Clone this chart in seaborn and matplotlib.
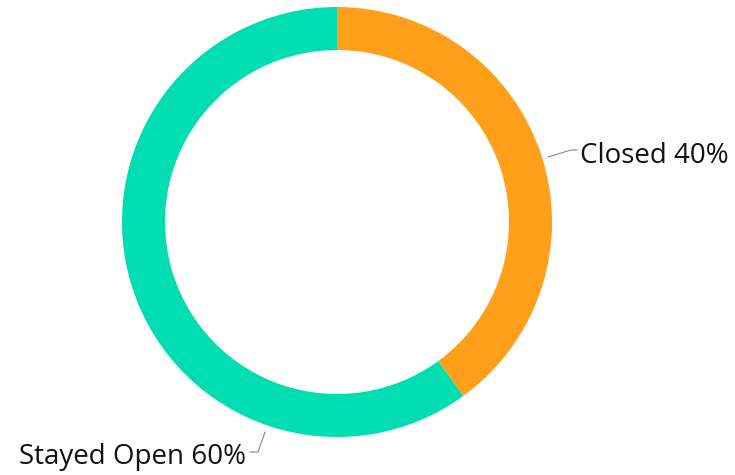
import matplotlib
matplotlib.use('Agg')
import matplotlib.pyplot as plt
import seaborn as sns

labels = ['Closed', 'Stayed Open']
shares = [40, 60]
colors = ['#FF9F1A', '#00DDB0']

sns.set_theme(style='white')
plt.rcParams['font.family'] = ['Open Sans', 'DejaVu Sans']

W, H = 735, 475
fig = plt.figure(figsize=(W / 100, H / 100), dpi=100)
ax = fig.add_axes([0, 0, 1, 1])

# donut, center and radius in pixel units (y measured from bottom)
cx, cy, r_out, r_in = 337, H - 222, 215, 172
ax.pie(shares, colors=colors, startangle=90, counterclock=False,
       center=(cx, cy), radius=r_out, frame=True,
       wedgeprops=dict(width=r_out - r_in, linewidth=0))
ax.set_xlim(0, W)
ax.set_ylim(0, H)
ax.set_aspect('equal')
ax.axis('off')

# leader lines and labels
ax.plot([548, 571, 577], [H - 157, H - 150, H - 150], color='#888888', lw=0.8)
ax.text(580, H - 156, f'{labels[0]} {shares[0]}%', fontsize=20, va='center', ha='left', color='#111111')

ax.plot([265, 258, 250], [H - 432, H - 452, H - 452], color='#888888', lw=0.8)
ax.text(246, H - 457, f'{labels[1]} {shares[1]}%', fontsize=20, va='center', ha='right', color='#111111')

fig.savefig('out.png', dpi=100)
